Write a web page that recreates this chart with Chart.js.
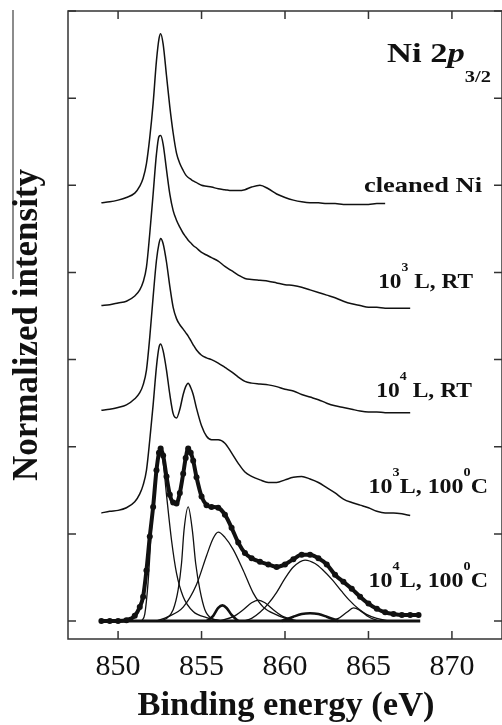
<!DOCTYPE html>
<html>
<head>
<meta charset="utf-8">
<script src="https://cdn.jsdelivr.net/npm/chart.js@4.4.1/dist/chart.umd.min.js"></script>
<style>
html,body{margin:0;padding:0;background:#fff}
canvas{display:block}
</style>
</head>
<body>
<canvas id="xps" width="502" height="725" style="width:502px;height:725px"></canvas>
<script>
// ================= DATA =================
// binding energy grid (eV), shared by the measured spectra
const energy = [
849.0,849.5,850.0,850.5,851.0,851.3,851.5,851.7,851.9,852.1,
852.3,852.45,852.55,852.7,852.9,853.1,853.3,853.5,853.7,853.9,
854.05,854.2,854.35,854.5,854.7,855.0,855.3,855.6,856.0,856.4,
856.8,857.2,857.6,858.0,858.5,859.0,859.5,860.0,860.5,861.0,
861.5,862.0,862.5,863.0,863.5,864.0,864.5,865.0,865.5,866.0,
866.5,867.0,867.5,868.0
];

// normalized intensity, already stacked with offsets as in the figure
const cleanNi = [
4.80,4.81,4.83,4.86,4.91,4.99,5.08,5.25,5.55,5.94,
6.43,6.68,6.74,6.62,6.26,5.90,5.60,5.37,5.25,5.17,
5.12,5.09,5.07,5.05,5.03,5.00,4.99,4.98,4.96,4.95,
4.94,4.94,4.95,4.98,5.00,4.96,4.90,4.86,4.83,4.81,
4.80,4.80,4.79,4.79,4.78,4.78,4.78,4.78,4.79,4.79
];
const rt1e3 = [
3.62,3.63,3.65,3.67,3.73,3.80,3.89,4.06,4.45,4.90,
5.36,5.56,5.57,5.47,5.18,4.90,4.71,4.60,4.52,4.45,
4.41,4.37,4.34,4.31,4.28,4.23,4.20,4.17,4.13,4.07,
4.02,3.97,3.93,3.92,3.91,3.90,3.88,3.86,3.85,3.83,
3.80,3.77,3.74,3.71,3.67,3.64,3.62,3.60,3.60,3.59,
3.59,3.59,3.59
];
const rt1e4 = [
2.42,2.43,2.45,2.48,2.55,2.62,2.71,2.88,3.26,3.72,
4.14,4.33,4.39,4.33,4.12,3.84,3.60,3.47,3.40,3.35,
3.31,3.27,3.22,3.17,3.11,3.05,3.02,3.00,2.96,2.91,
2.86,2.80,2.75,2.73,2.72,2.71,2.69,2.66,2.64,2.60,
2.57,2.54,2.50,2.47,2.45,2.43,2.41,2.40,2.40,2.39,
2.39,2.39,2.39
];
const hot1e3 = [
1.24,1.26,1.27,1.30,1.37,1.46,1.56,1.73,2.08,2.48,
2.92,3.14,3.18,3.10,2.88,2.60,2.38,2.33,2.43,2.60,
2.69,2.73,2.68,2.60,2.44,2.24,2.12,2.08,2.08,2.04,
1.93,1.81,1.71,1.66,1.62,1.59,1.59,1.62,1.65,1.66,
1.63,1.59,1.53,1.47,1.40,1.36,1.33,1.30,1.26,1.24,
1.24,1.23,1.21
];
const hot1e4 = [
0.00,0.00,0.00,0.01,0.06,0.16,0.28,0.58,0.97,1.31,
1.73,1.93,1.98,1.90,1.66,1.45,1.36,1.35,1.47,1.69,
1.87,1.98,1.93,1.84,1.65,1.43,1.33,1.31,1.30,1.22,
1.07,0.90,0.78,0.72,0.68,0.65,0.62,0.65,0.71,0.76,
0.76,0.72,0.65,0.53,0.45,0.37,0.28,0.20,0.14,0.10,
0.08,0.07,0.07,0.07
];

// fitted components of the 10^4 L, 100 C spectrum
const compAE = [851.4,851.6,851.8,852.0,852.2,852.4,852.55,852.7,852.9,853.2,853.5,853.9,854.5,855.3,856.3];
const compAI = [0.00,0.08,0.45,1.05,1.50,1.85,1.93,1.82,1.45,0.93,0.55,0.28,0.11,0.04,0.00];
const compBE = [852.3,852.9,853.3,853.6,853.8,853.95,854.2,854.45,854.65,854.9,855.2,855.6,856.3];
const compBI = [0.00,0.03,0.13,0.36,0.66,1.04,1.31,1.04,0.66,0.36,0.13,0.03,0.00];
const compCE = [852.3,853.0,853.9,854.7,855.3,855.7,856.0,856.4,856.9,857.5,858.1,858.7,859.5,860.5];
const compCI = [0.00,0.05,0.16,0.42,0.75,0.95,1.02,0.96,0.82,0.58,0.32,0.16,0.07,0.00];
const compDE = [855.3,855.7,856.0,856.25,856.5,856.8,857.2];
const compDI = [0.00,0.06,0.15,0.18,0.15,0.07,0.00];
const compEE = [856.0,856.9,857.5,858.0,858.4,858.8,859.3,859.9,860.8];
const compEI = [0.00,0.05,0.13,0.21,0.24,0.21,0.13,0.05,0.00];
const compFE = [857.5,858.0,858.5,859.0,859.5,860.0,860.5,861.2,861.8,862.3,862.85,863.4,863.85,864.4,864.85,865.5,866.2];
const compFI = [0.00,0.03,0.10,0.20,0.33,0.49,0.62,0.70,0.66,0.58,0.47,0.34,0.24,0.14,0.08,0.03,0.00];
const compGE = [859.8,860.5,861.0,861.5,862.0,862.5,863.2];
const compGI = [0.00,0.05,0.08,0.09,0.08,0.05,0.00];
const compHE = [862.6,863.2,863.7,864.1,864.5,865.0,865.6];
const compHI = [0.00,0.03,0.10,0.15,0.12,0.05,0.00];
const baseE = [849.0,868.1];
const baseI = [0,0];

const xTicks = [850,855,860,865,870];
const yTicks = [0,1,2,3,4,5,6,7];

// curve labels, [text, style]
const seriesLabels = [
[["cleaned Ni",""]],
[["10",""],["3","sup"],[" L, RT",""]],
[["10",""],["4","sup"],[" L, RT",""]],
[["10",""],["3","sup"],["L, 100",""],["0","sup"],["C",""]],
[["10",""],["4","sup"],["L, 100",""],["0","sup"],["C",""]]
];
const panelTitle = [["Ni 2",""],["p","it"],["3/2","sub"]];


// ================= HELPERS =================
function pts(xs, ys){
return ys.map((v,i)=>({x:xs[i], y:v}));
}

function line(data, width){
return {
data:data,
borderColor:"#111",
borderWidth:width,
pointRadius:0,
fill:false,
cubicInterpolationMode:"monotone"
};
}

function drawRich(ctx, parts, x, y, size, stretch, align){
let fonts = parts.map(p=>{
let s = (p[1]==="sup"||p[1]==="sub") ? Math.round(size*0.6) : size;
return (p[1]==="it" ? "italic bold " : "bold ") + s + "px 'Liberation Serif'";
});
let total = 0;
let widths = parts.map((p,i)=>{
ctx.font = fonts[i];
let w = ctx.measureText(p[0]).width;
total += w;
return w;
});
ctx.save();
ctx.translate(align==="right" ? x - total*stretch : x, y);
ctx.scale(stretch,1);
let cx = 0;
parts.forEach((p,i)=>{
ctx.font = fonts[i];
let dy = p[1]==="sup" ? -size*0.78 : (p[1]==="sub" ? size*0.75 : 0);
ctx.fillText(p[0], cx, dy);
cx += widths[i];
});
ctx.restore();
}


// ================= DECORATION PLUGIN =================
const extras = {
id:"extras",
afterDraw(chart){
const {ctx, chartArea:a, scales:{x, y}} = chart;
ctx.save();

// frame
ctx.strokeStyle = "#333";
ctx.lineWidth = 1.5;
ctx.strokeRect(a.left, a.top, a.right-a.left, a.bottom-a.top);

// inward tick marks
const len = 8;
ctx.beginPath();
x.ticks.forEach(t=>{
let px = x.getPixelForValue(t.value);
ctx.moveTo(px, a.bottom); ctx.lineTo(px, a.bottom-len);
ctx.moveTo(px, a.top); ctx.lineTo(px, a.top+len);
});
y.ticks.forEach(t=>{
let py = y.getPixelForValue(t.value);
ctx.moveTo(a.left, py); ctx.lineTo(a.left+len, py);
ctx.moveTo(a.right, py); ctx.lineTo(a.right-len, py);
});
ctx.stroke();

// stray grey rule at the far left of the scan
ctx.strokeStyle = "#8c8c8c";
ctx.lineWidth = 2;
ctx.beginPath();
ctx.moveTo(13, 10); ctx.lineTo(13, 279);
ctx.stroke();

ctx.fillStyle = "#111";
ctx.textBaseline = "alphabetic";

// axis titles
ctx.font = "bold 34.5px 'Liberation Serif'";
ctx.textAlign = "center";
ctx.fillText("Binding energy (eV)", 286, 715);

ctx.save();
ctx.translate(37, 325);
ctx.rotate(-Math.PI/2);
ctx.font = "bold 35px 'Liberation Serif'";
ctx.fillText("Normalized intensity", 0, 0);
ctx.restore();

// curve labels (right edge, baseline)
ctx.textAlign = "left";
const anchors = [[482,192],[473,288],[472,397],[488,493],[488,587]];
const stretch = [1.2,1.06,1.07,1.09,1.09];
seriesLabels.forEach((parts,i)=>{
drawRich(ctx, parts, anchors[i][0], anchors[i][1], 22, stretch[i], "right");
});

// panel title
drawRich(ctx, panelTitle, 387, 62, 27, 1.28, "left");

ctx.restore();
}
};


// ================= CHART =================
const measured = pts(energy, hot1e4);

new Chart(document.getElementById("xps"),{
type:"line",
data:{
datasets:[
line(pts(energy, cleanNi), 1.5),
line(pts(energy, rt1e3), 1.5),
line(pts(energy, rt1e4), 1.5),
line(pts(energy, hot1e3), 1.5),
{
data:measured,
borderColor:"#111",
borderWidth:4,
pointRadius:3,
pointBackgroundColor:"#111",
pointBorderWidth:0,
fill:false,
cubicInterpolationMode:"monotone"
},
line(pts(compAE, compAI), 1.3),
line(pts(compBE, compBI), 1.3),
line(pts(compCE, compCI), 1.3),
line(pts(compDE, compDI), 2.6),
line(pts(compEE, compEI), 1.3),
line(pts(compFE, compFI), 1.3),
line(pts(compGE, compGI), 2.6),
line(pts(compHE, compHI), 1.3),
line(pts(baseE, baseI), 3)
]
},
options:{
responsive:false,
animation:false,
events:[],
layout:{autoPadding:false, padding:{left:68, top:11, right:-1, bottom:30}},
plugins:{legend:{display:false}, tooltip:{enabled:false}},
scales:{
x:{
type:"linear",
min:847,
max:873,
grid:{display:false, drawTicks:false},
border:{display:false},
ticks:{
font:{family:"'Liberation Serif'", size:30},
color:"#111",
padding:10,
maxRotation:0,
autoSkip:false
},
afterBuildTicks:s=>{ s.ticks = xTicks.map(v=>({value:v})); }
},
y:{
type:"linear",
min:-0.206,
max:7,
grid:{display:false, drawTicks:false},
border:{display:false},
ticks:{display:false},
afterBuildTicks:s=>{ s.ticks = yTicks.map(v=>({value:v})); }
}
}
},
plugins:[extras]
});
</script>
</body>
</html>
